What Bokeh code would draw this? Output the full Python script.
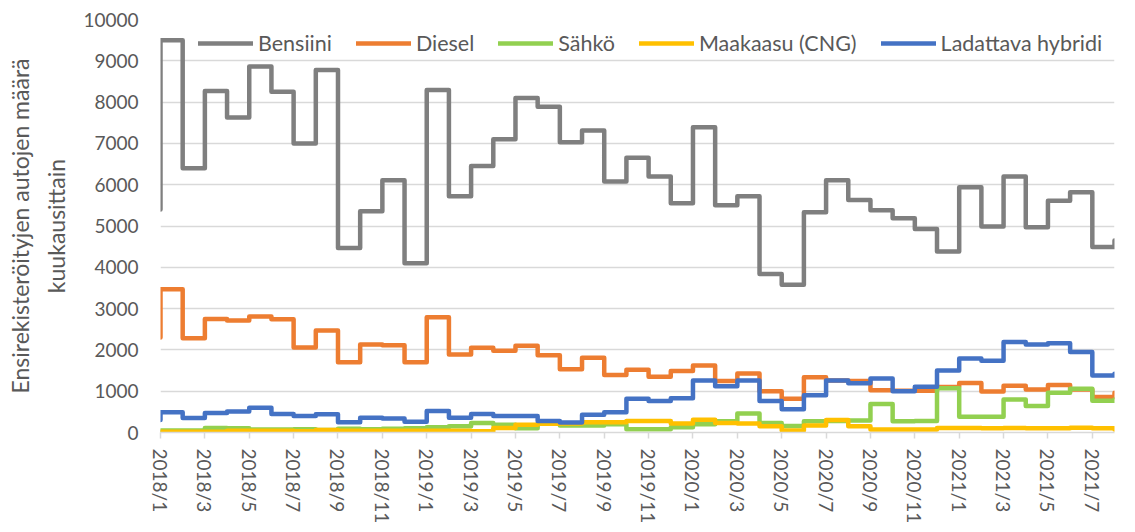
from bokeh.plotting import figure
from bokeh.models import Range1d, FixedTicker, Legend, LegendItem
from bokeh.embed import file_html
from bokeh.resources import INLINE

# ---- data (2018/1 ... 2021/8, monthly) ----
tick_labels = ["2018/1", "2018/3", "2018/5", "2018/7", "2018/9", "2018/11",
               "2019/1", "2019/3", "2019/5", "2019/7", "2019/9", "2019/11",
               "2020/1", "2020/3", "2020/5", "2020/7", "2020/9", "2020/11",
               "2021/1", "2021/3", "2021/5", "2021/7"]

# value of the month before the first (2017/12), where each line starts
edellinen = {"Bensiini": 5400, "Diesel": 2300, "Sähkö": 40,
             "Maakaasu (CNG)": 20, "Ladattava hybridi": 300}

bensiini = [9500, 6400, 8270, 7630, 8860, 8250, 7000, 8780, 4470, 5360, 6110, 4100,
            8290, 5720, 6450, 7100, 8100, 7890, 7030, 7310, 6080, 6650, 6200, 5550,
            7390, 5500, 5720, 3840, 3580, 5330, 6110, 5630, 5380, 5190, 4930, 4380,
            5940, 4990, 6200, 4970, 5610, 5820, 4490, 4650]
diesel = [3470, 2280, 2750, 2710, 2810, 2740, 2060, 2470, 1700, 2130, 2110, 1700,
          2790, 1890, 2050, 1980, 2100, 1870, 1530, 1810, 1390, 1520, 1350, 1490,
          1620, 1250, 1430, 1000, 820, 1340, 1260, 1250, 1020, 1010, 1010, 1100,
          1200, 990, 1130, 1040, 1150, 1040, 860, 960]
sahko = [50, 50, 110, 100, 70, 70, 80, 60, 90, 80, 90, 100,
         130, 150, 230, 190, 100, 210, 170, 170, 200, 80, 80, 130,
         200, 270, 460, 230, 160, 270, 280, 290, 690, 270, 280, 1070,
         380, 380, 800, 640, 960, 1060, 770, 800]
maakaasu = [20, 20, 20, 40, 40, 40, 30, 60, 40, 40, 40, 40,
            40, 40, 30, 110, 190, 210, 220, 250, 250, 280, 280, 220,
            310, 230, 220, 150, 50, 170, 300, 150, 70, 70, 70, 110,
            110, 100, 110, 100, 100, 115, 100, 70]
hybridi = [490, 350, 470, 510, 600, 450, 400, 440, 250, 360, 340, 260,
           520, 360, 450, 400, 400, 280, 240, 430, 490, 820, 760, 830,
           1260, 1120, 1260, 760, 560, 900, 1260, 1190, 1310, 1000, 1110, 1500,
           1790, 1740, 2190, 2130, 2160, 1950, 1380, 1420]

series = [("Bensiini", bensiini, "#7f7f7f"),
          ("Diesel", diesel, "#ed7d31"),
          ("Sähkö", sahko, "#92d050"),
          ("Maakaasu (CNG)", maakaasu, "#ffc000"),
          ("Ladattava hybridi", hybridi, "#4472c4")]

FONT = "Lato"
TXT = "#595959"
GRID = "#d9d9d9"
TICK_FS = "19px"
LEG_FS = "21.5px"
TITLE_FS = "23px"

n = len(bensiini)
p = figure(width=1130, height=528, output_backend="svg", toolbar_location=None,
           x_range=Range1d(0, n - 1), y_range=Range1d(0, 10000),
           min_border_left=160, min_border_right=16, min_border_top=19,
           min_border_bottom=96)
p.outline_line_color = None
p.background_fill_color = "white"
p.border_fill_color = "white"

p.xgrid.grid_line_color = None
p.ygrid.grid_line_color = GRID
p.ygrid.grid_line_width = 1.5

p.yaxis.ticker = FixedTicker(ticks=list(range(0, 10001, 1000)))
p.yaxis.axis_line_color = None
p.yaxis.major_tick_line_color = None
p.yaxis.minor_tick_line_color = None
p.yaxis.major_tick_out = 0
p.yaxis.major_tick_in = 0
p.yaxis.major_label_standoff = 22
p.yaxis.major_label_text_font = FONT
p.yaxis.major_label_text_font_size = TICK_FS
p.yaxis.major_label_text_color = TXT
p.yaxis.axis_label = "Ensirekisteröityjen autojen määrä\nkuukausittain"
p.yaxis.axis_label_text_font = FONT
p.yaxis.axis_label_text_font_size = TITLE_FS
p.yaxis.axis_label_text_font_style = "normal"
p.yaxis.axis_label_text_color = TXT
p.yaxis.axis_label_text_line_height = 1.3
p.yaxis.axis_label_standoff = 10

tick_pos = list(range(0, n, 2))
p.xaxis.ticker = FixedTicker(ticks=tick_pos)
p.xaxis.major_label_overrides = {t: lab for t, lab in zip(tick_pos, tick_labels)}
p.xaxis.major_label_orientation = "vertical"
p.xaxis.axis_line_color = GRID
p.xaxis.axis_line_width = 1.5
p.xaxis.major_tick_line_color = GRID
p.xaxis.major_tick_line_width = 1.5
p.xaxis.major_tick_in = 0
p.xaxis.major_tick_out = 6
p.xaxis.minor_tick_line_color = None
p.xaxis.major_label_standoff = 10
p.xaxis.major_label_text_font = FONT
p.xaxis.major_label_text_font_size = TICK_FS
p.xaxis.major_label_text_color = TXT

items = []
for name, vals, col in series:
    xs = [0] + list(range(n))
    ys = [edellinen[name]] + vals
    r = p.step(xs, ys, mode="after", line_color=col, line_width=4.5,
               line_join="round", line_cap="round")
    items.append(LegendItem(label=name, renderers=[r]))

legend = Legend(items=items, location=(38, 376), orientation="horizontal",
                glyph_width=55, glyph_height=22, label_standoff=5, spacing=24,
                padding=0, margin=0, border_line_color=None,
                background_fill_alpha=0, label_text_font=FONT,
                label_text_font_size=LEG_FS, label_text_color=TXT, label_height=22)
p.add_layout(legend)

open("out.html", "w").write(file_html(p, INLINE))
